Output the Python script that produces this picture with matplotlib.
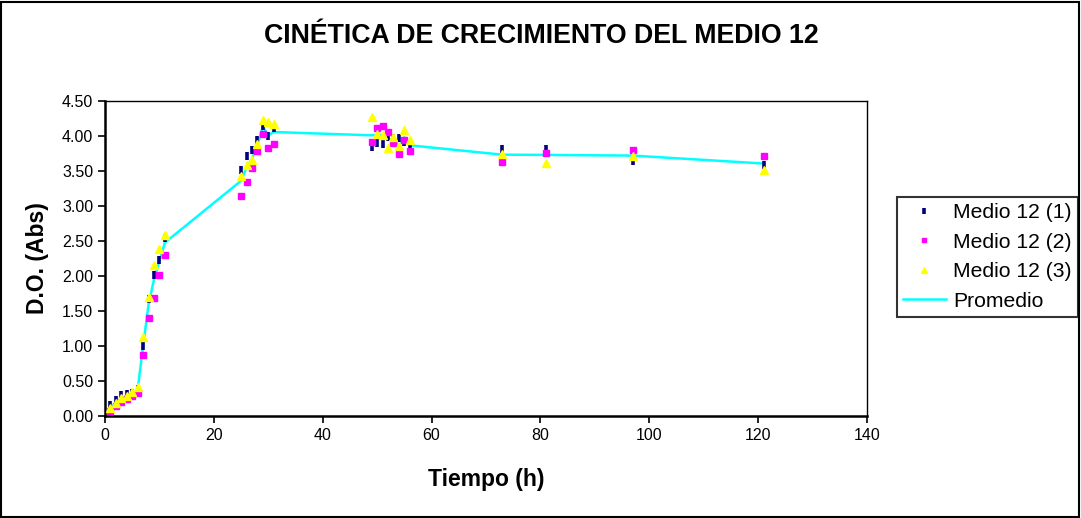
import numpy as np
import matplotlib
matplotlib.use("Agg")
import matplotlib.pyplot as plt

plt.rcParams['font.family'] = ['Liberation Sans', 'DejaVu Sans']

# sampling times (h)
tiempo = [1, 2, 3, 4, 5, 6, 7, 8, 9, 10, 11,
          25, 26, 27, 28, 29, 30, 31,
          49, 50, 51, 52, 53, 54, 55, 56,
          73, 81, 97, 121]

medio_1 = [0.16, 0.23, 0.30, 0.32, 0.33, 0.38, 1.00, 1.67, 2.01, 2.23, 2.54,
           3.51, 3.71, 3.80, 3.95, 4.14, 4.00, 4.11,
           3.84, 3.90, 3.89, 3.98, 3.97, 3.97, 3.91, 3.87,
           3.82, 3.81, 3.65, 3.59]
medio_2 = [0.07, 0.14, 0.20, 0.25, 0.28, 0.33, 0.87, 1.40, 1.68, 2.02, 2.30,
           3.14, 3.35, 3.55, 3.78, 4.03, 3.83, 3.89,
           3.92, 4.12, 4.15, 4.06, 3.90, 3.75, 3.95, 3.78,
           3.63, 3.76, 3.80, 3.72]
medio_3 = [0.11, 0.19, 0.26, 0.29, 0.34, 0.42, 1.13, 1.70, 2.16, 2.39, 2.59,
           3.43, 3.59, 3.66, 3.89, 4.23, 4.20, 4.17,
           4.27, 4.03, 4.01, 3.83, 3.98, 3.86, 4.08, 3.95,
           3.75, 3.62, 3.71, 3.51]

promedio = np.mean([medio_1, medio_2, medio_3], axis=0)

fig = plt.figure(figsize=(10.81, 5.18), dpi=100)
ax = fig.add_axes([105 / 1081, 1 - 416 / 518, 762 / 1081, 315 / 518])

# outer border of the chart area
fig.patches.append(plt.Rectangle((0.001, 0.002), 0.997, 0.995, transform=fig.transFigure,
                                 fill=False, edgecolor='black', linewidth=1.5))

line, = ax.plot(tiempo, promedio, color='#00FFFF', lw=1.8, zorder=2, label='Promedio')
s1, = ax.plot(tiempo, medio_1, ls='none', marker='|', ms=6, mew=2.6,
              color='#000080', zorder=3, label='Medio 12 (1)')
s2, = ax.plot(tiempo, medio_2, ls='none', marker='s', ms=5,
              color='#FF00FF', zorder=3, label='Medio 12 (2)')
s3, = ax.plot(tiempo, medio_3, ls='none', marker='^', ms=5.5,
              color='#FFFF00', zorder=3, label='Medio 12 (3)')

ax.set_xlim(0, 140)
ax.set_ylim(0, 4.5)
ax.set_xticks(range(0, 141, 20))
ax.set_yticks(np.arange(0, 4.51, 0.5))
ax.set_yticklabels([f"{v:.2f}" for v in np.arange(0, 4.51, 0.5)])
ax.tick_params(direction='out', length=5, width=1.2, labelsize=11.5, colors='black')

for side in ['left', 'bottom']:
    ax.spines[side].set_linewidth(1.8)
for side in ['top', 'right']:
    ax.spines[side].set_linewidth(1.0)

ax.set_xlabel('Tiempo (h)', fontsize=16.5, fontweight='bold', labelpad=18)
ax.set_ylabel('D.O. (Abs)', fontsize=16.5, fontweight='bold', labelpad=9)
fig.text(541 / 1081, 1 - 36 / 518, 'CINÉTICA DE CRECIMIENTO DEL MEDIO 12',
         ha='center', va='center', fontsize=19.3, fontweight='bold')

leg = ax.legend(handles=[s1, s2, s3, line], loc='center left',
                bbox_to_anchor=(897 / 1081, 1 - 257 / 518), bbox_transform=fig.transFigure,
                fontsize=15.2, frameon=True, fancybox=False, borderpad=0.3,
                handlelength=2.0, labelspacing=0.5, handletextpad=0.35,
                borderaxespad=0, markerscale=0.7)
leg.get_frame().set_edgecolor('black')
leg.get_frame().set_linewidth(1.5)

fig.savefig('out.png', dpi=100)
